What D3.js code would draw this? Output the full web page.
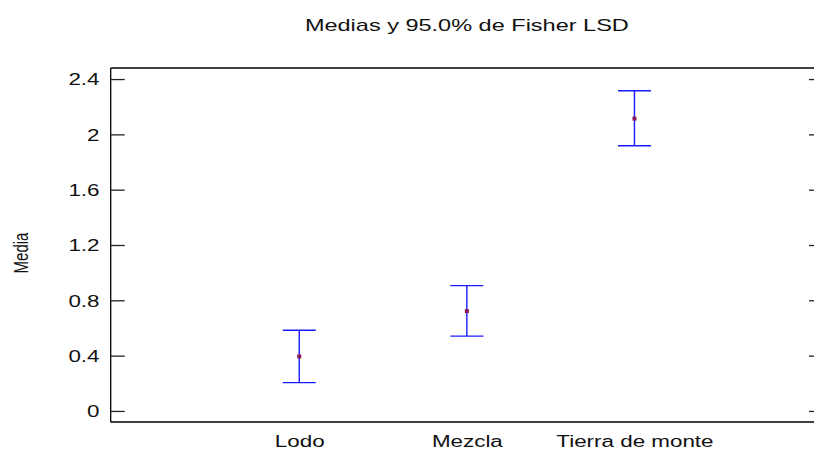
<!DOCTYPE html>
<html>
<head>
<meta charset="utf-8">
<script src="https://cdn.jsdelivr.net/npm/d3@7"></script>
<style>
  html, body { margin: 0; padding: 0; background: #fff; }
  svg { display: block; }
  text { font-family: "Liberation Sans", Arial, sans-serif; fill: #111; }
</style>
</head>
<body>
<svg id="chart" width="814" height="450"></svg>
<script>
// Group means with 95.0% Fisher LSD intervals
const categories = ["Lodo", "Mezcla", "Tierra de monte"];
const means = [0.394, 0.722, 2.114];
const lower = [0.205, 0.541, 1.918];
const upper = [0.583, 0.906, 2.316];
const yTicks = [0, 0.4, 0.8, 1.2, 1.6, 2, 2.4];
const yTickLabels = ["0", "0.4", "0.8", "1.2", "1.6", "2", "2.4"];

const title = "Medias y 95.0% de Fisher LSD";
const yLabel = "Media";

const svg = d3.select("#chart");
const stretch = 1.4;           // wide text rendering used throughout
const plotLeft = 110.7, plotRight = 823, plotTop = 68, plotBottom = 422;

const x = d3.scalePoint().domain(categories).range([plotLeft, plotRight]).padding(1.125);
const y = d3.scaleLinear().domain([-0.08, 2.48]).range([plotBottom, plotTop]);

// frame: left, top and bottom lines (right edge falls past the page)
const frame = svg.append("g").attr("stroke", "#000").attr("stroke-width", 1.3).attr("fill", "none");
frame.append("line").attr("x1", plotLeft).attr("x2", plotLeft).attr("y1", plotTop).attr("y2", plotBottom);
frame.append("line").attr("x1", plotLeft).attr("x2", plotRight).attr("y1", plotTop).attr("y2", plotTop);
frame.append("line").attr("x1", plotLeft).attr("x2", plotRight).attr("y1", plotBottom).attr("y2", plotBottom);

// left axis with inward ticks
const yAxis = d3.axisLeft(y)
  .tickValues(yTicks)
  .tickFormat((d, i) => yTickLabels[i])
  .tickSizeInner(-14)
  .tickSizeOuter(0)
  .tickPadding(8);
const gy = svg.append("g").attr("transform", `translate(${plotLeft},0)`).call(yAxis);
gy.select(".domain").remove();
gy.selectAll(".tick line").attr("stroke", "#222").attr("stroke-width", 1.3);
gy.selectAll(".tick text")
  .attr("font-size", 16)
  .attr("font-family", "'Liberation Sans', Arial, sans-serif")
  .attr("fill", "#111")
  .attr("dy", "0.36em")
  .attr("transform", `scale(${stretch},1)`);

// right axis: ticks only
const yAxisR = d3.axisRight(y).tickValues(yTicks).tickFormat("").tickSizeInner(-14).tickSizeOuter(0);
const gr = svg.append("g").attr("transform", `translate(${plotRight},0)`).call(yAxisR);
gr.select(".domain").remove();
gr.selectAll(".tick line").attr("stroke", "#222").attr("stroke-width", 1.3);

// category labels under the frame
const xAxis = d3.axisBottom(x).tickSize(0).tickPadding(0);
const gx = svg.append("g").attr("transform", `translate(0,${plotBottom})`).call(xAxis);
gx.select(".domain").remove();
gx.selectAll(".tick text")
  .attr("font-size", 16)
  .attr("font-family", "'Liberation Sans', Arial, sans-serif")
  .attr("fill", "#111")
  .attr("y", 25)
  .attr("dy", 0)
  .attr("transform", `scale(${stretch},1)`);

// interval bars
const capHalf = 16.5;
const bars = svg.append("g").selectAll("g").data(categories).join("g");
bars.append("line")
  .attr("x1", d => x(d)).attr("x2", d => x(d))
  .attr("y1", (d, i) => y(upper[i])).attr("y2", (d, i) => y(lower[i]))
  .attr("stroke", "#1a1aff").attr("stroke-width", 1.4);
bars.append("line")
  .attr("x1", d => x(d) - capHalf).attr("x2", d => x(d) + capHalf)
  .attr("y1", (d, i) => y(upper[i])).attr("y2", (d, i) => y(upper[i]))
  .attr("stroke", "#1a1aff").attr("stroke-width", 1.4);
bars.append("line")
  .attr("x1", d => x(d) - capHalf).attr("x2", d => x(d) + capHalf)
  .attr("y1", (d, i) => y(lower[i])).attr("y2", (d, i) => y(lower[i]))
  .attr("stroke", "#1a1aff").attr("stroke-width", 1.4);
bars.append("rect")
  .attr("x", d => x(d) - 2).attr("y", (d, i) => y(means[i]) - 2)
  .attr("width", 4).attr("height", 4)
  .attr("fill", "#8a1a5a");

// title
svg.append("text")
  .attr("transform", `translate(${(plotLeft + plotRight) / 2},31) scale(${stretch},1)`)
  .attr("text-anchor", "middle")
  .attr("font-size", 16.8)
  .text(title);

// y-axis label
svg.append("text")
  .attr("transform", `translate(28,253) scale(${stretch},1) rotate(-90)`)
  .attr("text-anchor", "middle")
  .attr("font-size", 15)
  .text(yLabel);
</script>
</body>
</html>
